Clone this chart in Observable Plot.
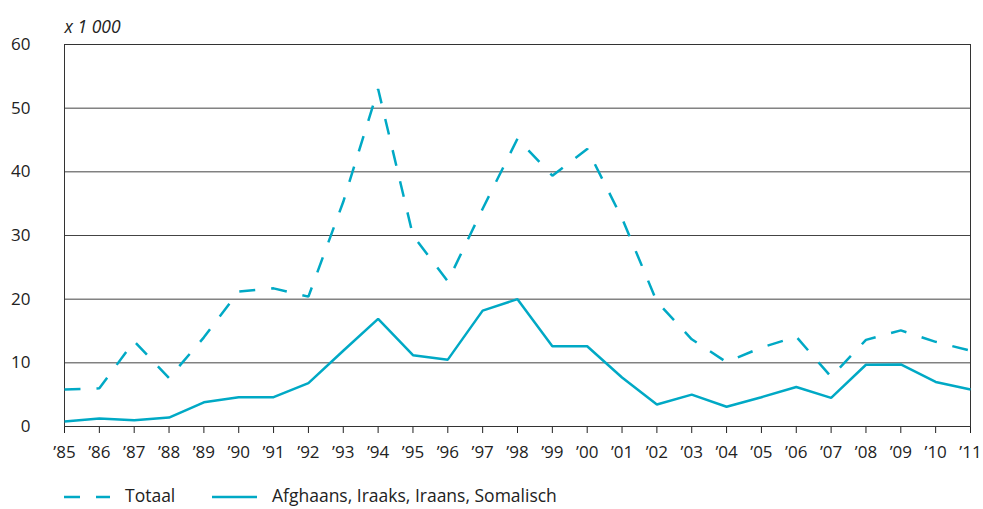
<!DOCTYPE html>
<html><head><meta charset="utf-8">
<script src="https://cdn.jsdelivr.net/npm/d3@7"></script>
<script src="https://cdn.jsdelivr.net/npm/@observablehq/plot@0.6"></script>
<style>
body{margin:0;background:#fff;font-family:"Open Sans","Noto Sans",sans-serif;}
#chart svg{display:block;}
#legend{position:relative;width:983px;height:39px;font-size:17.5px;color:#222;}
#legend .item{position:absolute;top:26px;transform:translateY(-50%);white-space:nowrap;line-height:1;}
</style></head><body><div id="chart"></div><div id="legend"></div>
<script>
const years = [1985,1986,1987,1988,1989,1990,1991,1992,1993,1994,1995,1996,1997,1998,1999,2000,2001,2002,2003,2004,2005,2006,2007,2008,2009,2010,2011];
const totaal = [5.8,6.0,13.4,7.6,14.0,21.2,21.7,20.4,35.3,53.0,30.0,22.8,34.2,45.2,39.4,43.6,32.7,19.6,13.7,10.1,12.4,14.1,7.8,13.6,15.1,13.3,11.9];
const afghaans = [0.8,1.25,1.0,1.4,3.8,4.6,4.6,6.8,11.9,16.9,11.2,10.5,18.2,20.0,12.6,12.6,7.7,3.45,5.0,3.1,4.6,6.2,4.5,9.7,9.75,7.0,5.8];
const seriesNames = ["Totaal","Afghaans, Iraaks, Iraans, Somalisch"];
const yTicks = [0,10,20,30,40,50,60];
const gridTicks = [10,20,30,40,50];
const unitLabel = "x 1 000";
const color = "#00a9c5";

const rowsT = years.map((y,i)=>({year:y, value:totaal[i]}));
const rowsA = years.map((y,i)=>({year:y, value:afghaans[i]}));

const plot = Plot.plot({
  width:983, height:470,
  marginTop:44, marginLeft:64, marginRight:13, marginBottom:44,
  style:{fontFamily:'"Open Sans", "Noto Sans", sans-serif', fontSize:"17px", color:"#222", background:"#fff", overflow:"visible"},
  x:{domain:[1985,2011], ticks:years, tickFormat:d=>"\u2019"+String(d).slice(2), tickSize:7, tickPadding:12, label:null},
  y:{domain:[0,60], ticks:yTicks, tickSize:0, tickPadding:34, label:null},
  marks:[
    Plot.ruleY(gridTicks, {stroke:"#444", strokeWidth:1}),
    Plot.frame({stroke:"#333"}),
    Plot.line(rowsT, {x:"year", y:"value", stroke:color, strokeWidth:2.5, strokeDasharray:"16,16", strokeLinecap:"butt", strokeLinejoin:"miter"}),
    Plot.line(rowsA, {x:"year", y:"value", stroke:color, strokeWidth:2.5, strokeLinecap:"butt", strokeLinejoin:"miter"}),
    Plot.text([unitLabel], {frameAnchor:"top-left", dy:-24, textAnchor:"start", fontStyle:"italic", fontSize:17.5, fill:"#222"})
  ]
});
document.getElementById("chart").appendChild(plot);

const legend = document.getElementById("legend");
const items = [
  {name:seriesNames[0], dash:"16,16", x1:64, x2:110, tx:125},
  {name:seriesNames[1], dash:null, x1:212, x2:257, tx:272}
];
for (const it of items) {
  const sw = document.createElement("div");
  sw.className = "item";
  sw.style.left = it.x1 + "px";
  sw.style.top = "27px";
  sw.innerHTML = `<svg width="${it.x2-it.x1}" height="6" style="display:block"><line x1="0" x2="${it.x2-it.x1}" y1="3" y2="3" stroke="${color}" stroke-width="2.5" ${it.dash?`stroke-dasharray="${it.dash}"`:""}/></svg>`;
  legend.appendChild(sw);
  const t = document.createElement("div");
  t.className = "item";
  t.style.left = it.tx + "px";
  t.textContent = it.name;
  legend.appendChild(t);
}
</script></body></html>
